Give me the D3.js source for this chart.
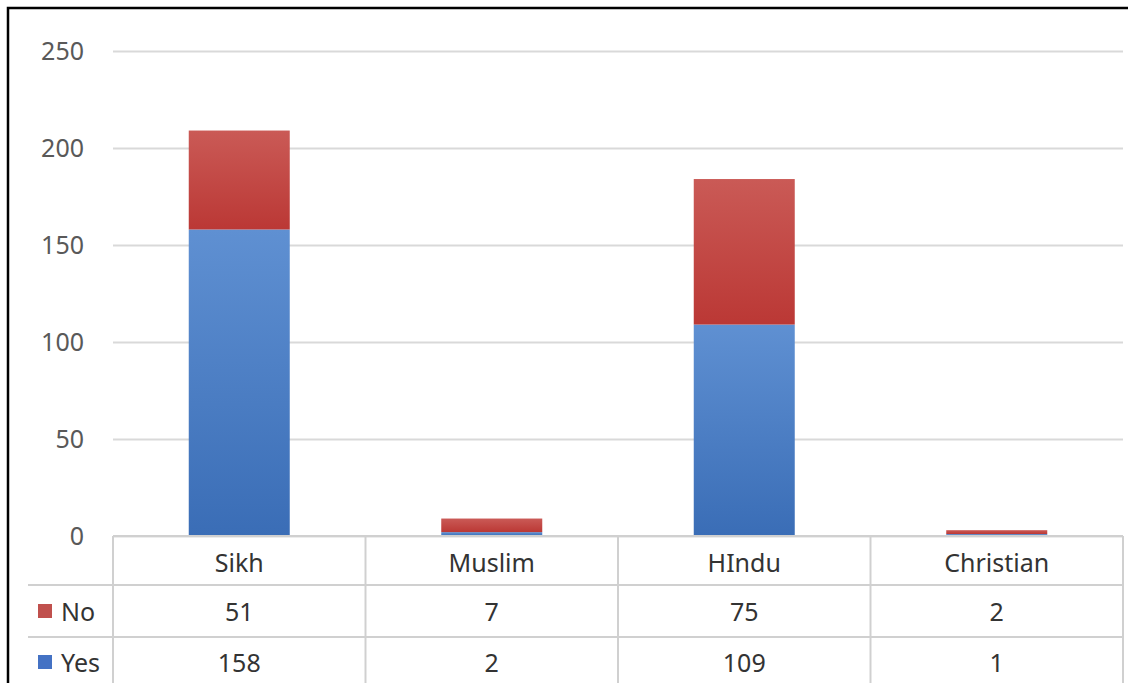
<!DOCTYPE html>
<html>
<head>
<meta charset="utf-8">
<script src="https://cdn.jsdelivr.net/npm/d3@7"></script>
<style>
  html, body { margin: 0; padding: 0; background: #fff; }
  svg { display: block; }
</style>
</head>
<body>
<svg id="chart" width="1128" height="683"></svg>
<script>
// Stacked column chart with an attached data table
const categories = ["Sikh", "Muslim", "HIndu", "Christian"];
const seriesNames = ["Yes", "No"];          // stacking order, bottom to top
const yesValues = [158, 2, 109, 1];
const noValues = [51, 7, 75, 2];
const yTicks = [0, 50, 100, 150, 200, 250];
const tableRows = ["No", "Yes"];            // row order in the data table

const W = 1128, H = 683;
const plot = { left: 113, right: 1123, top: 51, bottom: 536 };
const tableRowLines = [536, 585, 637];
const keyLeft = 28;
const font = "'Noto Sans', 'Liberation Sans', Arial, sans-serif";

const svg = d3.select("#chart");

const rows = categories.map((c, i) => ({ category: c, Yes: yesValues[i], No: noValues[i] }));
const stacked = d3.stack().keys(seriesNames)(rows);

const x = d3.scaleBand()
  .domain(categories)
  .range([plot.left, plot.right])
  .paddingInner(0.6)
  .paddingOuter(0.3);
const xCol = d3.scaleBand().domain(categories).range([plot.left, plot.right]);
const y = d3.scaleLinear().domain([0, 250]).range([plot.bottom, plot.top]);

// gradients for the column fills
const defs = svg.append("defs");
const fills = {
  Yes: ["#5f90d2", "#3a6db6"],
  No: ["#ca5a56", "#bb3835"]
};
Object.entries(fills).forEach(([k, [c0, c1]]) => {
  const g = defs.append("linearGradient").attr("id", "grad-" + k)
    .attr("x1", 0).attr("y1", 0).attr("x2", 0).attr("y2", 1);
  g.append("stop").attr("offset", "0%").attr("stop-color", c0);
  g.append("stop").attr("offset", "100%").attr("stop-color", c1);
});
const keyColor = { Yes: "#4472c4", No: "#c0504d" };

// value axis with gridlines
const yAxis = d3.axisLeft(y)
  .tickValues(yTicks)
  .tickSize(-(plot.right - plot.left))
  .tickPadding(29)
  .tickFormat(d3.format("d"));
const gy = svg.append("g")
  .attr("transform", `translate(${plot.left},0)`)
  .call(yAxis);
gy.select(".domain").remove();
gy.selectAll(".tick line").attr("stroke", "#d9d9d9").attr("stroke-width", 2);
gy.selectAll(".tick text")
  .attr("fill", "#595959")
  .style("font-family", font)
  .style("font-size", "25px");

// stacked columns
svg.append("g").selectAll("g")
  .data(stacked)
  .join("g")
  .attr("fill", d => `url(#grad-${d.key})`)
  .selectAll("rect")
  .data(d => d)
  .join("rect")
  .attr("x", d => x(d.data.category))
  .attr("width", x.bandwidth())
  .attr("y", d => y(d[1]))
  .attr("height", d => y(d[0]) - y(d[1]));

// data table grid
const grid = svg.append("g").attr("stroke", "#d0d0d0").attr("stroke-width", 2);
grid.append("line")
  .attr("x1", plot.left).attr("x2", plot.right)
  .attr("y1", tableRowLines[0]).attr("y2", tableRowLines[0]);
tableRowLines.slice(1).forEach(yy => {
  grid.append("line")
    .attr("x1", keyLeft).attr("x2", plot.right)
    .attr("y1", yy).attr("y2", yy);
});
[...categories.map(c => xCol(c)), plot.right].forEach(xx => {
  grid.append("line")
    .attr("x1", xx).attr("x2", xx)
    .attr("y1", tableRowLines[0]).attr("y2", H);
});

// header row: category names
const textColor = "#333333";
svg.append("g").selectAll("text")
  .data(categories)
  .join("text")
  .attr("x", d => xCol(d) + xCol.bandwidth() / 2)
  .attr("y", 562)
  .attr("text-anchor", "middle")
  .attr("dominant-baseline", "central")
  .attr("fill", textColor)
  .style("font-family", font)
  .style("font-size", "25px")
  .text(d => d);

// value rows with legend keys
const rowCenter = { No: 611, Yes: 662 };
const rowValues = { No: noValues, Yes: yesValues };
tableRows.forEach(r => {
  const g = svg.append("g");
  g.append("rect")
    .attr("x", 38).attr("y", rowCenter[r] - 7)
    .attr("width", 14).attr("height", 14)
    .attr("fill", keyColor[r]);
  g.append("text")
    .attr("x", 61).attr("y", rowCenter[r])
    .attr("dominant-baseline", "central")
    .attr("fill", textColor)
    .style("font-family", font)
    .style("font-size", "25px")
    .text(r);
  g.selectAll("text.val")
    .data(categories)
    .join("text")
    .attr("class", "val")
    .attr("x", d => xCol(d) + xCol.bandwidth() / 2)
    .attr("y", rowCenter[r])
    .attr("text-anchor", "middle")
    .attr("dominant-baseline", "central")
    .attr("fill", textColor)
    .style("font-family", font)
    .style("font-size", "25px")
    .text((d, i) => rowValues[r][i]);
});

// outer frame (top and left edges)
svg.append("path")
  .attr("d", `M8,${H} L8,8 L${W},8`)
  .attr("fill", "none")
  .attr("stroke", "#000")
  .attr("stroke-width", 2.5);
</script>
</body>
</html>
